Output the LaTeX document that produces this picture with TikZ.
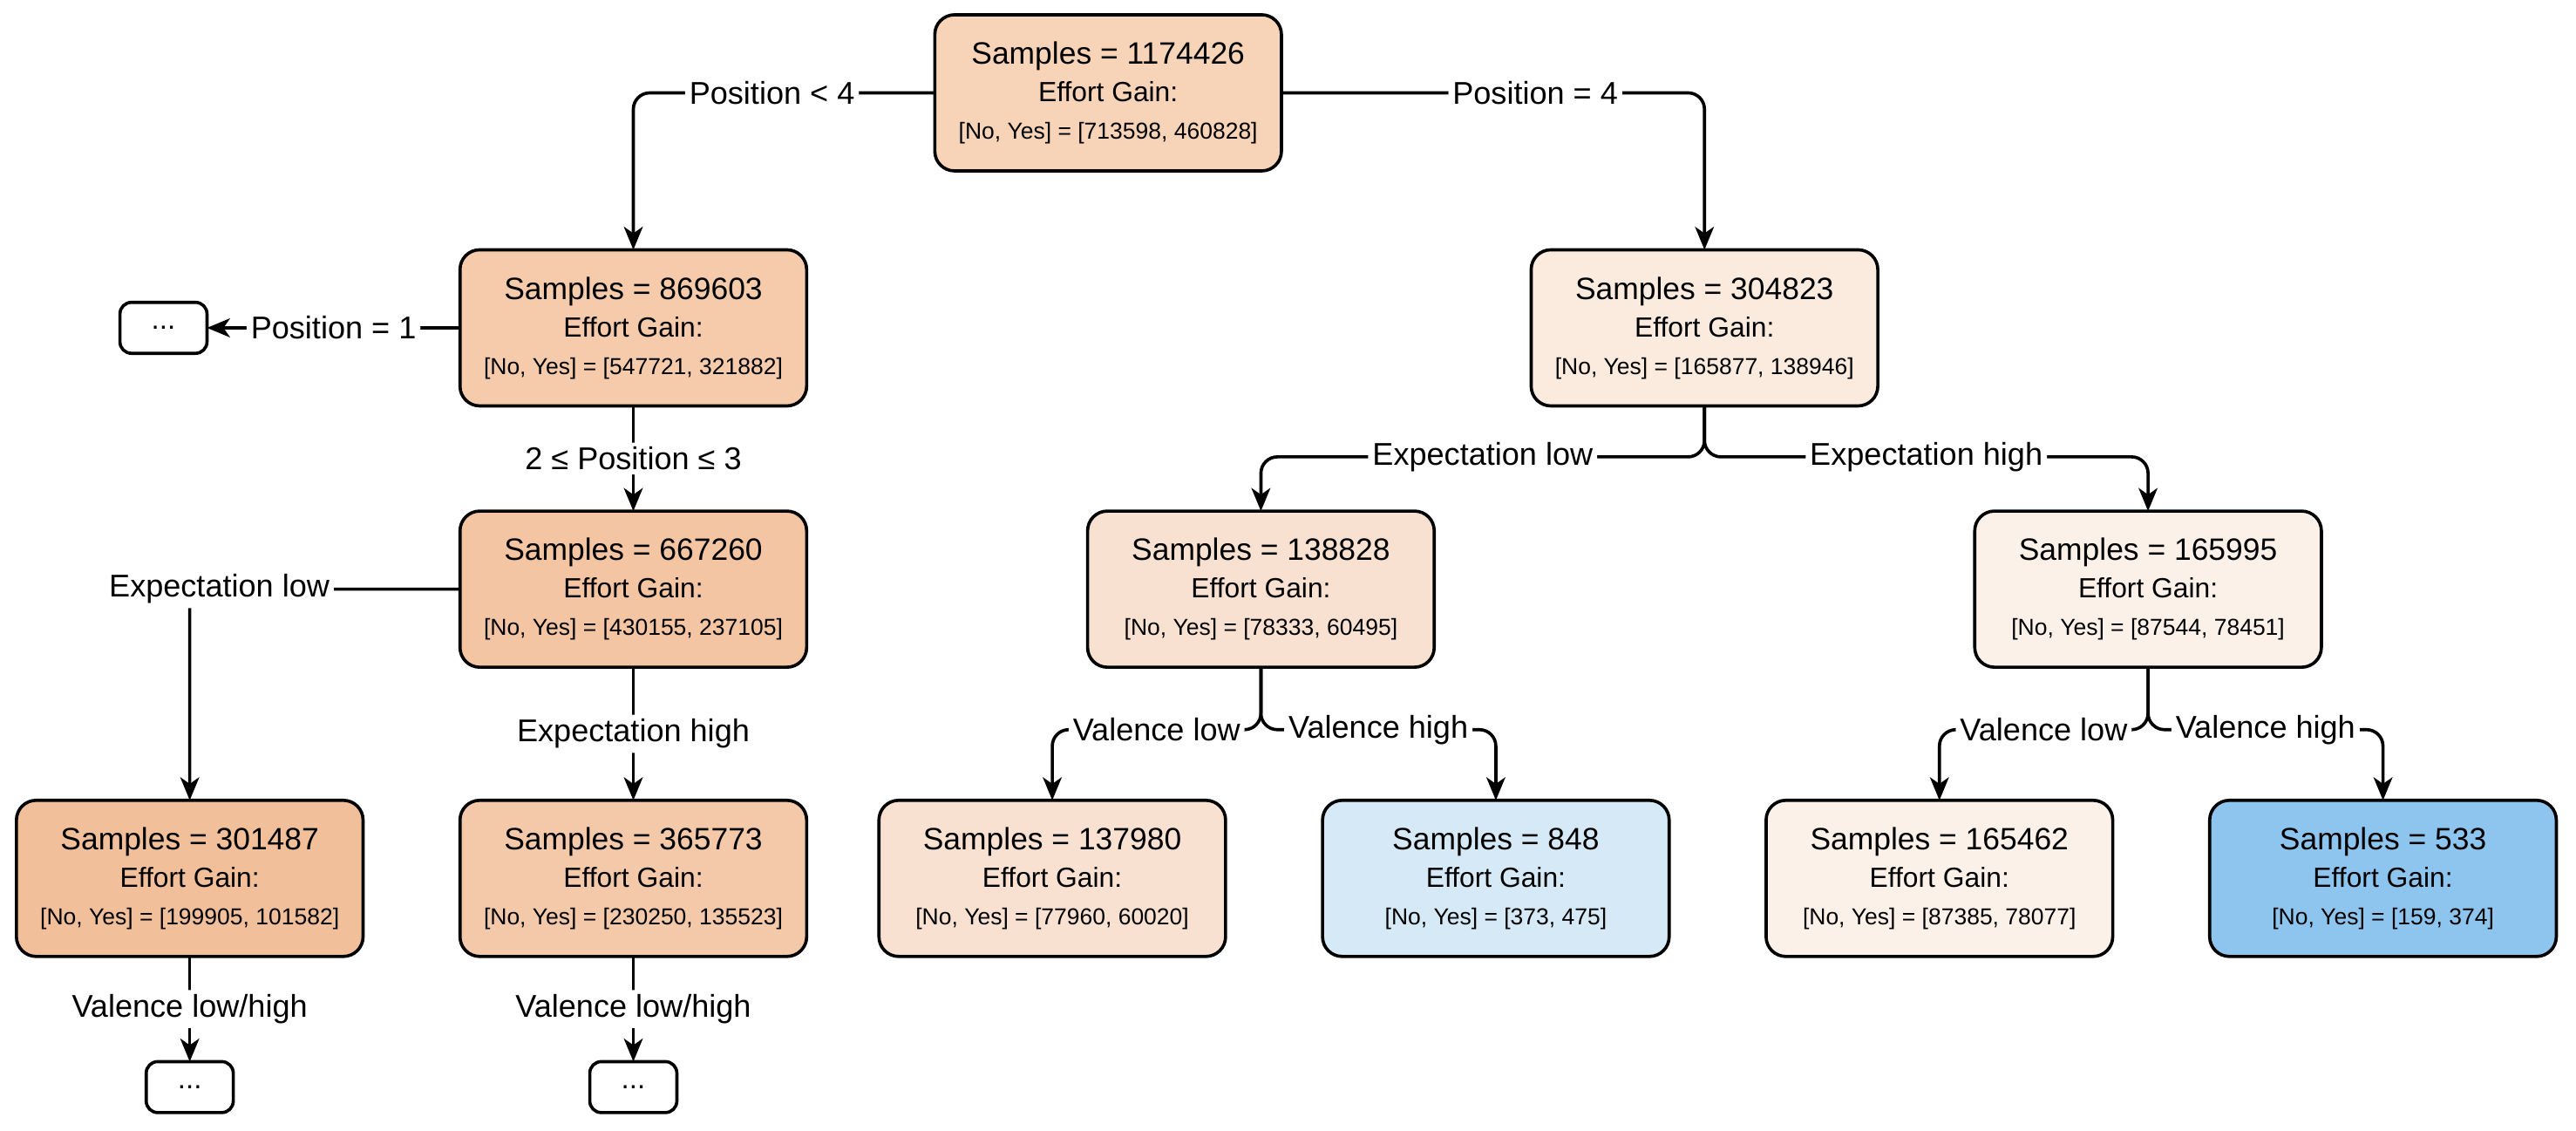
\documentclass[tikz,border=0pt]{standalone}
\usepackage{fontspec}
\setmainfont{Liberation Sans}
\newcommand{\splitinfo}[3]{{\fontsize{10.7}{13}\selectfont Samples = #1}\\{\fontsize{9.6}{13}\selectfont Effort Gain:}\\{\fontsize{8}{13}\selectfont [No, Yes] = [#2, #3]}}
\usepackage{tikz}
\usetikzlibrary{arrows.meta, positioning}
\definecolor{gainA}{HTML}{F7D3B8}
\definecolor{gainB}{HTML}{F5CBAC}
\definecolor{gainC}{HTML}{F3C5A3}
\definecolor{gainD}{HTML}{F1BF9A}
\definecolor{gainE}{HTML}{F4C9AA}
\definecolor{gainF}{HTML}{FBEBDF}
\definecolor{gainG}{HTML}{F9E1D1}
\definecolor{gainH}{HTML}{FCF1E8}
\definecolor{lossA}{HTML}{D5E9F7}
\definecolor{lossB}{HTML}{8EC5EE}
\tikzset{>={Stealth[length=2.8mm,width=2.3mm,inset=0.8mm]},
    split/.style={rectangle,rounded corners=0.24cm,draw,align=center,
        minimum width=4.22cm,minimum height=1.9cm,inner sep=0pt,outer sep=0pt,
        font=\fontsize{8}{13}\selectfont},
    more/.style={rectangle,rounded corners=0.14cm,draw,fill=white,
        minimum width=1.06cm,minimum height=0.62cm,inner sep=0pt,outer sep=0pt,
        font=\fontsize{10}{12}\selectfont},
    cond/.style={fill=white,inner sep=1.5pt,font=\fontsize{10.9}{13}\selectfont},
    branch/.style={->,rounded corners=0.2cm}}

\begin{document}
\begin{tikzpicture}[line width=1.1pt]
\useasboundingbox (0,0) rectangle (31.36,13.76);
\node[split, fill=gainA] (a) at (13.49,12.63) {\splitinfo{1174426}{713598}{460828}};
\node[split, fill=gainB] (b) [below left=0.96cm and 1.56cm of a] {\splitinfo{869603}{547721}{321882}};
\node[split, fill=gainF] (c) [below right=0.96cm and 3.04cm of a] {\splitinfo{304823}{165877}{138946}};
\node[more] (b1) [left=3.08cm of b] {...};
\node[split, fill=gainC] (d) [below=1.28cm of b] {\splitinfo{667260}{430155}{237105}};
\node[split, fill=gainG] (e) [below left=1.28cm and 1.18cm of c] {\splitinfo{138828}{78333}{60495}};
\node[split, fill=gainH] (f) [below right=1.28cm and 1.18cm of c] {\splitinfo{165995}{87544}{78451}};
\node[split, fill=gainE] (h) [below=1.62cm of d] {\splitinfo{365773}{230250}{135523}};
\node[split, fill=gainD] (g) [left=1.18cm of h] {\splitinfo{301487}{199905}{101582}};
\node[split, fill=gainG] (i) [below=1.62cm of e, xshift=-2.54cm] {\splitinfo{137980}{77960}{60020}};
\node[split, fill=lossA] (j) [right=1.18cm of i] {\splitinfo{848}{373}{475}};
\node[split, fill=gainH] (k) [right=1.18cm of j] {\splitinfo{165462}{87385}{78077}};
\node[split, fill=lossB] (l) [right=1.18cm of k] {\splitinfo{533}{159}{374}};
\node[more] (g1) [below=1.28cm of g] {...};
\node[more] (h1) [below=1.28cm of h] {...};
% position splits
\draw[branch] (a.west) -| node[cond, pos=0.27] {Position < 4} (b.north);
\draw[branch] (a.east) -| node[cond, pos=0.3] {Position = 4} (c.north);
\draw[branch] (b.west) -- node[cond] {Position = 1} (b1.east);
\draw[branch] (b.south) -- node[cond] {2 ≤ Position ≤ 3} (d.north);
% expectation splits
\draw[branch] (d.west) -| node[cond, pos=0.5, xshift=0.36cm] {Expectation low} (g.north);
\draw[branch] (d.south) -- node[cond] {Expectation high} (h.north);
\draw[branch] (c.south) -- ++(0,-0.62) -| node[cond, pos=0.25] {Expectation low} (e.north);
\draw[branch] (c.south) -- ++(0,-0.62) -| node[cond, pos=0.25] {Expectation high} (f.north);
% valence splits
\draw[branch] (g.south) -- node[cond] {Valence low/high} (g1.north);
\draw[branch] (h.south) -- node[cond] {Valence low/high} (h1.north);
\draw[branch] (e.south) -- ++(0,-0.76) -| node[cond, pos=0.25] {Valence low} (i.north);
\draw[branch] (e.south) -- ++(0,-0.76) -| node[cond, pos=0.25] {Valence high} (j.north);
\draw[branch] (f.south) -- ++(0,-0.76) -| node[cond, pos=0.25] {Valence low} (k.north);
\draw[branch] (f.south) -- ++(0,-0.76) -| node[cond, pos=0.25] {Valence high} (l.north);
\end{tikzpicture}
\end{document}
